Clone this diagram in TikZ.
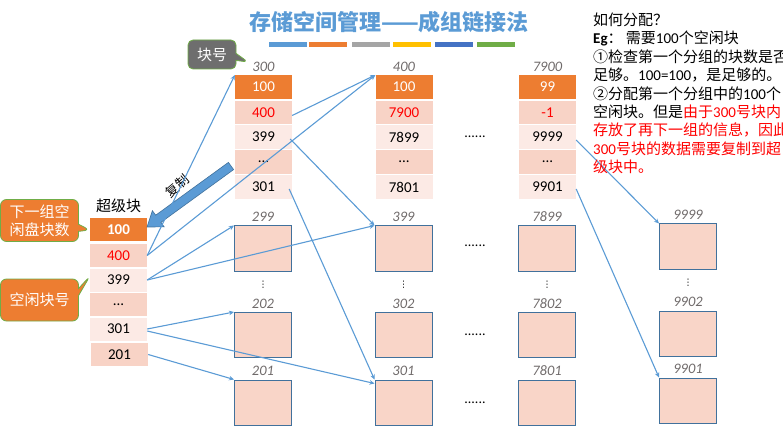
\documentclass[tikz,border=0pt]{standalone}
\usepackage{fontspec}
\setmainfont{Carlito}
\newfontfamily\cjk{Noto Sans CJK SC}
\newfontfamily\dv{DejaVu Sans}
\usetikzlibrary{shapes.callouts,arrows.meta,calc}
\definecolor{corange}{HTML}{ED7D31}
\definecolor{pinkd}{HTML}{F8D3C6}
\definecolor{pinkl}{HTML}{FCEAE5}
\definecolor{boxfill}{HTML}{F9D5C8}
\definecolor{boxblue}{HTML}{41719C}
\definecolor{ablue}{HTML}{5B9BD5}
\definecolor{labgray}{HTML}{6F6A6A}
\definecolor{cgreen}{HTML}{70AD47}
\definecolor{cgray}{HTML}{6E6E6E}
\definecolor{tblue}{HTML}{5B9BD5}
\definecolor{bblue}{HTML}{4472C4}
\definecolor{bgray}{HTML}{A5A5A5}
\definecolor{byellow}{HTML}{FFC000}
\newcommand\nm[1]{{\rmfamily #1}}
\begin{document}
\begin{tikzpicture}[x=1pt,y=-1pt,
  cell/.style={minimum width=57pt,minimum height=23.5pt,inner sep=0pt,font=\fontsize{15}{15}\selectfont,text=black},
  hd/.style={cell,fill=corange,text=white},
  pk/.style={cell,fill=pinkd},
  pl/.style={cell,fill=pinkl},
  blk/.style={draw=boxblue,fill=boxfill,line width=1pt,minimum width=57pt,minimum height=45pt,inner sep=0pt},
  num/.style={font=\fontsize{14.5}{14.5}\selectfont\itshape,text=labgray,inner sep=0pt},
  arr/.style={draw=ablue,line width=1.1pt,-{Stealth[length=5pt,width=4.5pt]}},
  dots/.style={font=\fontsize{14}{14}\selectfont,inner sep=0pt},
  vd/.style={font=\dv\fontsize{9}{9}\selectfont,inner sep=0pt},
  rt/.style={anchor=base west,inner sep=0pt,font=\cjk\fontsize{15}{15}\selectfont},
  bar/.style={minimum width=38pt,minimum height=5pt,inner sep=0pt}
]
\useasboundingbox (0,0) rectangle (783,427);
\clip (0,0) rectangle (783,427);

% title
\node[font=\cjk\bfseries\fontsize{22}{22}\selectfont,text=tblue,inner sep=0pt] (title) at (389,22) {存储空间管理——成组链接法};
\node[bar,fill=ablue] (b1) at (288,44.5) {};
\node[bar,fill=corange] (b2) at (328,44.5) {};
\node[bar,fill=bgray] (b3) at (371,44.5) {};
\node[bar,fill=byellow] (b4) at (412,44.5) {};
\node[bar,fill=bblue] (b5) at (454,44.5) {};
\node[bar,fill=cgreen] (b6) at (496,44.5) {};

% super block
\node[font=\cjk\fontsize{15}{15}\selectfont,inner sep=0pt] (sbl) at (118.5,206) {超级块};
\node[hd,minimum height=23pt] (s1) at (118.5,229.5) {\bfseries 100};
\node[pk,minimum height=23pt,text=red] (s2) at (118.5,255.5) {400};
\node[pl,minimum height=23pt] (s3) at (118.5,280) {399};
\node[pk,minimum height=23pt] (s4) at (118.5,304.5) {...};
\node[pl,minimum height=23pt] (s5) at (118.5,329) {301};
\node[pk,minimum height=23pt] (s6) at (119.5,354.5) {201};

% block 300
\node[num] (l300) at (263.5,67) {300};
\node[hd] (a1) at (263.5,87) {100};
\node[pk,text=red] (a2) at (263.5,112.5) {400};
\node[pl] (a3) at (263.5,137) {399};
\node[pk] (a4) at (263.5,162) {...};
\node[pl] (a5) at (263.5,187) {301};
% block 400
\node[num] (l400) at (404,67) {400};
\node[hd] (c1) at (404,87) {100};
\node[pk,text=red] (c2) at (404,112.5) {7900};
\node[pl] (c3) at (404,137) {7899};
\node[pk] (c4) at (404,162) {...};
\node[pl] (c5) at (404,187) {7801};
% block 7900
\node[num] (l7900) at (547.5,67) {7900};
\node[hd] (d1) at (547.5,87) {99};
\node[pk,text=red] (d2) at (547.5,112.5) {-1};
\node[pl] (d3) at (547.5,137) {9999};
\node[pk] (d4) at (547.5,162) {...};
\node[pl] (d5) at (547.5,187) {9901};
\node[dots] (dt0) at (475,137) {......};

% lower boxes, column 1
\node[num] (n299) at (263,217) {299};
\node[blk] (e1) at (263,248.5) {};
\node[vd] (v1) at (263,285) {⋮};
\node[num] (n202) at (263,304) {202};
\node[blk] (e2) at (263,335) {};
\node[num] (n201) at (263,371) {201};
\node[blk] (e3) at (263,402.5) {};
% column 2
\node[num] (n399) at (403.5,217) {399};
\node[blk] (f1) at (403.5,248.5) {};
\node[vd] (v2) at (403.5,285) {⋮};
\node[num] (n302) at (403.5,304) {302};
\node[blk] (f2) at (403.5,335) {};
\node[num] (n301) at (403.5,371) {301};
\node[blk] (f3) at (403.5,402.5) {};
% column 3
\node[num] (n7899) at (547,217) {7899};
\node[blk] (g1) at (547,248.5) {};
\node[vd] (v3) at (547,285) {⋮};
\node[num] (n7802) at (547,304) {7802};
\node[blk] (g2) at (547,335) {};
\node[num] (n7801) at (547,371) {7801};
\node[blk] (g3) at (547,402.5) {};
% column 4
\node[num] (n9999) at (688,215) {9999};
\node[blk] (h1) at (688,246.5) {};
\node[vd] (v4) at (688,283) {⋮};
\node[num] (n9902) at (688,302) {9902};
\node[blk] (h2) at (688,333.5) {};
\node[num] (n9901) at (688,369) {9901};
\node[blk] (h3) at (688,400.5) {};
\node[dots] (dt1) at (475,246) {......};
\node[dots] (dt2) at (475,335) {......};
\node[dots] (dt3) at (475,403) {......};

% copy arrow
\filldraw[fill=ablue,draw=boxblue,line width=0.6pt]
  (228.4,162.4) -- (155.7,215.2) -- (152.4,210.7) -- (147,227) -- (164.2,226.9) -- (160.9,222.4) -- (233.6,169.6) -- cycle;
\node[font=\cjk\fontsize{13}{13}\selectfont,rotate=40,inner sep=0pt] (fz) at (177,186) {复制};

% connectors
\draw[arr] (s2.east) -- (a1.north west);
\draw[arr] (s2.east) -- (c1.north west);
\draw[arr] (s3.east) -- (e1.north west);
\draw[arr] (s3.east) -- (f1.north west);
\draw[arr] (s5.east) -- (e2.north west);
\draw[arr] ([yshift=-2pt]s5.east) -- ($(f3.north west)+(0,4)$);
\draw[arr] (s6.east) -- (e3.north west);
\draw[arr] ([yshift=-3pt]a2.east) -- (c1.north west);
\draw[arr] ([xshift=-2pt,yshift=-2pt]a3.east) -- (f1.north west);
\draw[arr] ([xshift=-3pt,yshift=-2pt]a5.east) -- (f3.north west);
\draw[arr] ([yshift=-3pt]d3.east) -- (h1.north west);
\draw[arr] ([yshift=-2pt]d5.east) -- (h3.north west);

% callouts
\node[rectangle callout,rounded corners=5pt,fill=cgray,draw=cgreen,line width=0.8pt,
  minimum width=48pt,minimum height=29pt,inner sep=0pt,text=white,
  font=\cjk\fontsize{15}{15}\selectfont,callout absolute pointer={(248,62)}] (kh) at (212,54.5) {块号};
\node[rectangle callout,rounded corners=6pt,fill=corange,draw=cgreen,line width=0.8pt,
  minimum width=78pt,minimum height=42pt,inner sep=0pt,text=white,align=center,
  font=\cjk\fontsize{15}{18}\selectfont,callout absolute pointer={(90,230)}] (xy) at (39.5,220.5) {下一组空\\闲盘块数};
\node[rectangle callout,rounded corners=6pt,fill=corange,draw=cgreen,line width=0.8pt,
  minimum width=78pt,minimum height=42pt,inner sep=0pt,text=white,
  font=\cjk\fontsize{15}{15}\selectfont,callout absolute pointer={(90,276)}] (kx) at (39.5,300) {空闲块号};

% right text
\node[rt] (t1) at (593,25.5) {如何分配？};
\node[rt] (t2) at (593,43.9) {\nm{\bfseries Eg}： 需要\nm{100}个空闲块};
\node[rt] (t3) at (593,62.3) {①检查第一个分组的块数是否};
\node[rt] (t4) at (593,80.7) {足够。\nm{100=100}，是足够的。};
\node[rt] (t5) at (593,99.1) {②分配第一个分组中的\nm{100}个};
\node[rt] (t6) at (593,117.5) {空闲块。但是\textcolor{red}{由于\nm{300}号块内}};
\node[rt,text=red] (t7) at (593,135.9) {存放了再下一组的信息，因此};
\node[rt,text=red] (t8) at (593,154.3) {\nm{300}号块的数据需要复制到超};
\node[rt,text=red] (t9) at (593,172.7) {级块中。};
\end{tikzpicture}
\end{document}
